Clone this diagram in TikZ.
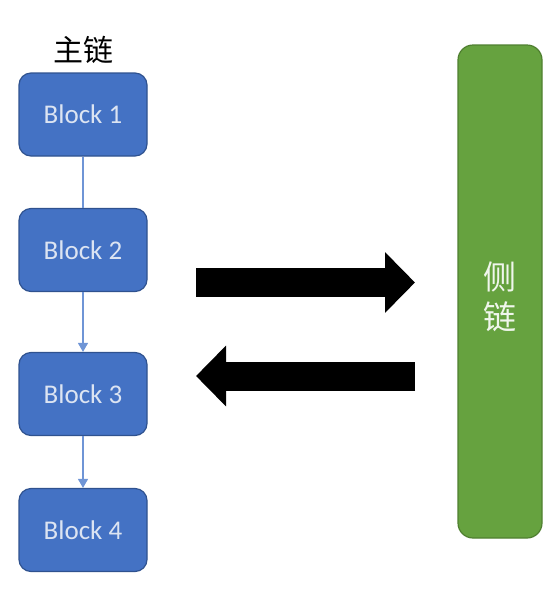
\documentclass[tikz,border=0pt]{standalone}
\usepackage{fontspec}
\setmainfont{Carlito}
\newfontfamily\cjk{Noto Sans CJK SC}
\usetikzlibrary{arrows.meta, positioning}
\definecolor{blockblue}{HTML}{4472C4}
\definecolor{blockedge}{HTML}{2F528F}
\definecolor{linkblue}{HTML}{6F95D6}
\definecolor{sidegreen}{HTML}{66A23F}
\definecolor{sideedge}{HTML}{4F7F30}
\definecolor{blocktext}{HTML}{DCE4F2}
\begin{document}
\begin{tikzpicture}[
    x=1pt, y=-1pt,
    block/.style={rectangle, rounded corners=12pt, draw=blockedge, line width=1.2pt, fill=blockblue, minimum width=128pt, minimum height=83pt, text=blocktext, font=\fontsize{27}{30}\selectfont},
    sidebar/.style={rectangle, rounded corners=15pt, draw=sideedge, line width=1.2pt, fill=sidegreen, minimum width=84pt, minimum height=493pt, text=white!90!sidegreen, align=center, font=\cjk\fontsize{33}{40}\selectfont},
    link/.style={draw=linkblue, line width=1.3pt},
    bigarrow/.style={line width=29pt, -{Triangle[length=30pt, width=59pt]}}
]
    \useasboundingbox (0,0) rectangle (559,614);

    % Main chain
    \node[font=\cjk\fontsize{30}{36}\selectfont] (mainlabel) at (83,50) {主链};
    \node[block] (b1) at (83,114.5) {Block 1};
    \node[block] (b2) at (83,250) {Block 2};
    \node[block] (b3) at (83,394) {Block 3};
    \node[block] (b4) at (83,530) {Block 4};

    % Links
    \draw[link] (b1) -- (b2);
    \draw[link, -{Triangle[length=9pt, width=10pt]}] (b2) -- (b3);
    \draw[link, -{Triangle[length=9pt, width=10pt]}] (b3) -- (b4);

    % Side chain
    \node[sidebar] (side) at (500,291.5) {};
    \node[text=white!90!sidegreen, align=center, font=\cjk\fontsize{33}{40}\selectfont] (sidelabel) at (500,297) {侧\\链};

    % Transfer arrows
    \coordinate (toL) at (196,282.5);
    \coordinate (toR) at (415,282.5);
    \coordinate (backR) at (415,376);
    \coordinate (backL) at (196,376);
    \draw[bigarrow] (toL) -- (toR);
    \draw[bigarrow] (backR) -- (backL);
\end{tikzpicture}
\end{document}
